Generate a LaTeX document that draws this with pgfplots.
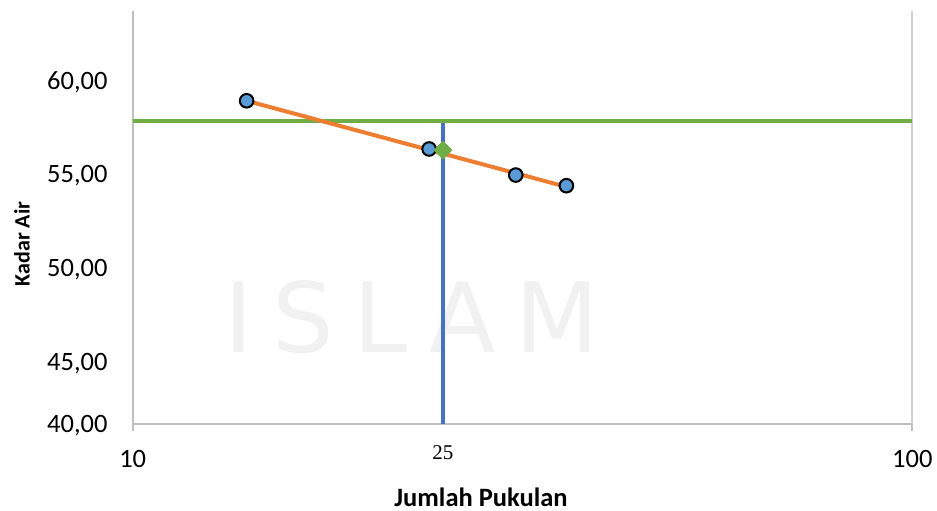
\documentclass[border=0pt]{standalone}
\usepackage{pgfplots}
\pgfplotsset{compat=1.18}
\usepackage{fontspec}
\setmainfont{Carlito}
\newfontfamily\serifnum{Liberation Serif}
\newfontfamily\wmfont[LetterSpace=20]{DejaVu Sans}
\definecolor{corange}{HTML}{ED7D31}
\definecolor{cgreen}{HTML}{70AD47}
\definecolor{cblue}{HTML}{4472C4}
\definecolor{mblue}{HTML}{5B9BD5}
\definecolor{axgray}{HTML}{BFBFBF}
\definecolor{wm}{HTML}{F1F1F1}
\begin{document}
\begin{tikzpicture}[x=1pt,y=1pt]
\node[anchor=base, text=wm, font=\wmfont\fontsize{97}{100}\selectfont, inner sep=0pt] at (412,158) {ISLAM};
\begin{axis}[
  at={(132.7pt,87pt)}, anchor=south west, scale only axis,
  width=779.6pt, height=413pt,
  xmode=log, xmin=10, xmax=100, ymin=41.69, ymax=63.72,
  axis lines*=left,
  axis line style={axgray, line width=2pt},
  xmajorgrids, grid style={axgray!70, line width=2pt},
  xminorticks=false,
  xtick={10,100}, xticklabels={10,100},
  ytick={41.69,45,50,55,60},
  yticklabels={{40,00},{45,00},{50,00},{55,00},{60,00}},
  tick align=outside, major tick length=7pt,
  x tick style={axgray, line width=2pt},
  y tick style={draw=none},
  tick label style={font=\fontsize{26.5}{30}\selectfont},
  xticklabel style={anchor=center, inner sep=0pt, yshift=-28pt},
  yticklabel style={anchor=base east, inner sep=0pt, yshift=-8.4pt, xshift=-18pt},
  extra x ticks={25}, extra x tick labels={25},
  extra x tick style={grid=none, major tick length=0pt,
    xticklabel style={font=\serifnum\fontsize{21}{24}\selectfont, yshift=-1pt}},
  clip=false,
]
\addplot[only marks, mark=*, mark size=6.8pt,
  mark options={fill=mblue, draw=black, line width=2pt}]
  coordinates {(14,58.93) (24,56.36) (31,54.97) (36,54.40)};
\addplot[only marks, mark=square*, mark size=6.5pt,
  mark options={fill=cgreen, draw=cgreen, rotate=45}]
  coordinates {(25,56.30)};
\addplot[cblue, line width=4pt] coordinates {(25,41.69) (25,57.87)};
\addplot[cgreen, line width=3.7pt] coordinates {(10,57.87) (100,57.87)};
\addplot[corange, line width=4pt] coordinates {(14,58.93) (36,54.34)};
\end{axis}
\node[font=\bfseries\fontsize{26.5}{30}\selectfont, inner sep=0pt] at (481,14) {Jumlah Pukulan};
\node[rotate=90, font=\bfseries\fontsize{22}{26}\selectfont, inner sep=0pt] at (22,267) {Kadar Air};
\pgfresetboundingbox
\path (0,0) rectangle (937,511);
\end{tikzpicture}
\end{document}
